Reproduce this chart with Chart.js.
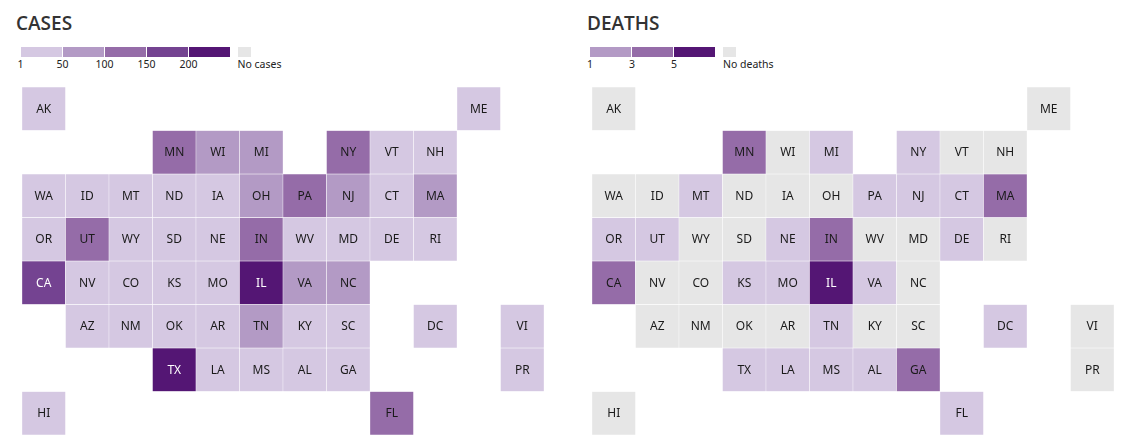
<!DOCTYPE html>
<html>
<head>
<meta charset="utf-8">
<title>Cases and deaths by state</title>
<script src="https://cdn.jsdelivr.net/npm/chart.js@4/dist/chart.umd.min.js"></script>
<style>
  html, body { margin: 0; padding: 0; background: #fff; overflow: hidden; }
  body { width: 1122px; height: 446px; position: relative; font-family: "Noto Sans", sans-serif; color: #333; }
  h2 { position: absolute; top: 10px; margin: 0; font-family: "Open Sans", sans-serif; font-size: 19px; line-height: 26px; font-weight: 600; }
  canvas { position: absolute; top: 87px; }
  .swatch { position: absolute; top: 47px; height: 10px; }
  .tick { position: absolute; top: 56px; font-size: 10.5px; line-height: 16px; color: #222; transform: translateX(-50%); }
  .tick.none { transform: none; }
</style>
</head>
<body>
<h2 style="left:16px">CASES</h2>
<h2 style="left:587px">DEATHS</h2>
<div id="legendCases"></div>
<div id="legendDeaths"></div>
<canvas id="casesMap" width="522" height="348" style="left:21.5px"></canvas>
<canvas id="deathsMap" width="522" height="348" style="left:591.5px"></canvas>

<script>
// tile map layout, one list per row
const tileRows = [
  ['AK', '', '', '', '', '', '', '', '', '', 'ME', ''],
  ['', '', '', 'MN', 'WI', 'MI', '', 'NY', 'VT', 'NH', '', ''],
  ['WA', 'ID', 'MT', 'ND', 'IA', 'OH', 'PA', 'NJ', 'CT', 'MA', '', ''],
  ['OR', 'UT', 'WY', 'SD', 'NE', 'IN', 'WV', 'MD', 'DE', 'RI', '', ''],
  ['CA', 'NV', 'CO', 'KS', 'MO', 'IL', 'VA', 'NC', '', '', '', ''],
  ['', 'AZ', 'NM', 'OK', 'AR', 'TN', 'KY', 'SC', '', 'DC', '', 'VI'],
  ['', '', '', 'TX', 'LA', 'MS', 'AL', 'GA', '', '', '', 'PR'],
  ['HI', '', '', '', '', '', '', '', 'FL', '', '', '']
];

const states = ['AK', 'ME', 'MN', 'WI', 'MI', 'NY', 'VT', 'NH', 'WA', 'ID', 'MT', 'ND', 'IA', 'OH', 'PA', 'NJ', 'CT', 'MA',
  'OR', 'UT', 'WY', 'SD', 'NE', 'IN', 'WV', 'MD', 'DE', 'RI', 'CA', 'NV', 'CO', 'KS', 'MO', 'IL', 'VA', 'NC',
  'AZ', 'NM', 'OK', 'AR', 'TN', 'KY', 'SC', 'DC', 'VI', 'TX', 'LA', 'MS', 'AL', 'GA', 'PR', 'HI', 'FL'];

// only the colour bin can be read from the picture, so these are estimates inside each bin
const caseCounts = [25, 25, 125, 75, 75, 125, 25, 25, 25, 25, 25, 25, 25, 75, 125, 75, 25, 75,
  25, 125, 25, 25, 25, 125, 25, 25, 25, 25, 175, 25, 25, 25, 25, 225, 75, 75,
  25, 25, 25, 25, 75, 25, 25, 25, 25, 225, 25, 25, 25, 25, 25, 25, 125];
const deathCounts = [0, 0, 4, 0, 1, 1, 0, 0, 0, 0, 1, 0, 0, 0, 1, 1, 1, 4,
  1, 1, 0, 0, 1, 4, 0, 0, 1, 0, 4, 0, 0, 1, 1, 6, 1, 0,
  0, 0, 0, 0, 1, 0, 0, 1, 0, 1, 1, 1, 1, 4, 0, 0, 1];

const caseTicks = ['1', '50', '100', '150', '200'];
const deathTicks = ['1', '3', '5'];

const LIGHT = '#d5c8e2', SOFT = '#b39ac5', MID = '#956ca8', STRONG = '#744391', DARK = '#541674', NONE = '#e6e6e6';

function caseColour(v) {
  if (v >= 200) return DARK;
  if (v >= 150) return STRONG;
  if (v >= 100) return MID;
  if (v >= 50) return SOFT;
  return v >= 1 ? LIGHT : NONE;
}

function deathColour(v) {
  if (v >= 5) return DARK;
  if (v >= 3) return MID;
  return v >= 1 ? LIGHT : NONE;
}

// writes the state code in the middle of every tile
const tileLabels = {
  id: 'tileLabels',
  afterDatasetsDraw(chart) {
    let ctx = chart.ctx;
    ctx.save();
    ctx.font = '12px "Noto Sans", sans-serif';
    ctx.textAlign = 'center';
    ctx.textBaseline = 'middle';
    chart.data.datasets.forEach((dataset, r) => {
      chart.getDatasetMeta(r).data.forEach((bar, c) => {
        let code = tileRows[r][c];
        if (!code) return;
        let fill = dataset.backgroundColor[c];
        let p = bar.getCenterPoint();
        ctx.fillStyle = (fill === DARK || fill === STRONG) ? '#fff' : '#1a1a1a';
        ctx.fillText(code, p.x, p.y + 0.5);
      });
    });
    ctx.restore();
  }
};

function drawTileMap(canvasId, values, colour) {
  let datasets = tileRows.map((row, r) => ({
    data: row.map(code => code ? [r, r + 1] : null),
    backgroundColor: row.map(code => code ? colour(values[states.indexOf(code)]) : 'transparent'),
    borderColor: '#fff',
    borderWidth: 0.5,
    borderSkipped: false,
    grouped: false,
    barPercentage: 1,
    categoryPercentage: 1
  }));
  new Chart(document.getElementById(canvasId), {
    type: 'bar',
    data: { labels: tileRows[0].map((_, c) => c), datasets: datasets },
    options: {
      responsive: false,
      animation: false,
      layout: { padding: 0 },
      plugins: { legend: { display: false }, tooltip: { enabled: false } },
      scales: {
        x: { display: false },
        y: { display: false, reverse: true, min: 0, max: tileRows.length }
      }
    },
    plugins: [tileLabels]
  });
}

function addSwatch(parent, left, width, colour) {
  let el = document.createElement('div');
  el.className = 'swatch';
  el.style.left = left + 'px';
  el.style.width = width + 'px';
  el.style.background = colour;
  parent.appendChild(el);
}

function addTick(parent, left, text, isNone) {
  let el = document.createElement('div');
  el.className = isNone ? 'tick none' : 'tick';
  el.style.left = left + 'px';
  el.textContent = text;
  parent.appendChild(el);
}

function drawLegend(parentId, left, ticks, colours, noneText) {
  let parent = document.getElementById(parentId);
  colours.forEach((colour, i) => addSwatch(parent, left + i * 42, 41, colour));
  ticks.forEach((tick, i) => addTick(parent, left + i * 42, tick, false));
  let end = left + colours.length * 42 + 7;
  addSwatch(parent, end, 13, NONE);
  addTick(parent, end, noneText, true);
}

drawLegend('legendCases', 20.5, caseTicks, [LIGHT, SOFT, MID, STRONG, DARK], 'No cases');
drawLegend('legendDeaths', 590, deathTicks, [SOFT, MID, DARK], 'No deaths');
drawTileMap('casesMap', caseCounts, caseColour);
drawTileMap('deathsMap', deathCounts, deathColour);
</script>
</body>
</html>
